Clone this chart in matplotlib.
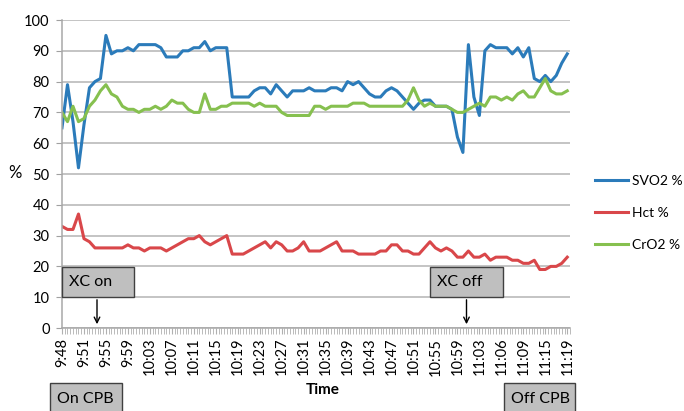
import numpy as np
import matplotlib
matplotlib.use("Agg")
import matplotlib.pyplot as plt
from matplotlib.patches import Rectangle

plt.rcParams['font.family'] = ['Lato', 'DejaVu Sans']

tick_labels = ["9:48", "9:51", "9:55", "9:59", "10:03", "10:07", "10:11", "10:15",
               "10:19", "10:23", "10:27", "10:31", "10:35", "10:39", "10:43", "10:47",
               "10:51", "10:55", "10:59", "11:03", "11:06", "11:09", "11:15", "11:19"]

svo2 = [65, 79, 67, 52, 66, 78, 80, 81, 95, 89, 90, 90, 91, 90, 92, 92, 92, 92, 91, 88,
        88, 88, 90, 90, 91, 91, 93, 90, 91, 91, 91, 75, 75, 75, 75, 77, 78, 78, 76, 79,
        77, 75, 77, 77, 77, 78, 77, 77, 77, 78, 78, 77, 80, 79, 80, 78, 76, 75, 75, 77,
        78, 77, 75, 73, 71, 73, 74, 74, 72, 72, 72, 71, 62, 57, 92, 75, 69, 90, 92, 91,
        91, 91, 89, 91, 88, 91, 81, 80, 82, 80, 82, 86, 89]

hct = [33, 32, 32, 37, 29, 28, 26, 26, 26, 26, 26, 26, 27, 26, 26, 25, 26, 26, 26, 25,
       26, 27, 28, 29, 29, 30, 28, 27, 28, 29, 30, 24, 24, 24, 25, 26, 27, 28, 26, 28,
       27, 25, 25, 26, 28, 25, 25, 25, 26, 27, 28, 25, 25, 25, 24, 24, 24, 24, 25, 25,
       27, 27, 25, 25, 24, 24, 26, 28, 26, 25, 26, 25, 23, 23, 25, 23, 23, 24, 22, 23,
       23, 23, 22, 22, 21, 21, 22, 19, 19, 20, 20, 21, 23]

cro2 = [70, 67, 72, 67, 68, 72, 74, 77, 79, 76, 75, 72, 71, 71, 70, 71, 71, 72, 71, 72,
        74, 73, 73, 71, 70, 70, 76, 71, 71, 72, 72, 73, 73, 73, 73, 72, 73, 72, 72, 72,
        70, 69, 69, 69, 69, 69, 72, 72, 71, 72, 72, 72, 72, 73, 73, 73, 72, 72, 72, 72,
        72, 72, 72, 74, 78, 74, 72, 73, 72, 72, 72, 71, 70, 70, 71, 72, 73, 72, 75, 75,
        74, 75, 74, 76, 77, 75, 75, 78, 81, 77, 76, 76, 77]

x = np.arange(len(svo2))
step = 4  # points between labelled ticks

fig = plt.figure(figsize=(6.84, 4.11), dpi=100)
ax = fig.add_axes([62 / 684, 1 - 328 / 411, 508 / 684, 308 / 411])

ax.plot(x, svo2, color='#2b7bba', lw=2.2, label='SVO2 %', solid_joinstyle='round')
ax.plot(x, hct, color='#d9474a', lw=2.2, label='Hct %', solid_joinstyle='round')
ax.plot(x, cro2, color='#86c04f', lw=2.2, label='CrO2 %', solid_joinstyle='round')

ax.set_ylim(0, 100)
ax.set_xlim(0, len(svo2) - 1)
ax.set_yticks(range(0, 101, 10))
ax.set_xticks(np.arange(0, len(svo2), step))
ax.set_xticklabels(tick_labels, rotation=90)
ax.set_xticks(np.arange(0, len(svo2), 0.5), minor=True)
ax.tick_params(axis='y', labelsize=10.5, length=4, color='#a0a0a0', pad=5)
ax.tick_params(axis='x', which='both', labelsize=10.5, length=4, color='#b0b0b0', pad=3)
ax.grid(axis='y', color='#b4b4b4', lw=1.1)
ax.set_axisbelow(True)
for s in ['top', 'right']:
    ax.spines[s].set_visible(False)
for s in ['left', 'bottom']:
    ax.spines[s].set_color('#a8a8a8')
    ax.spines[s].set_linewidth(1.1)

fig.text(15 / 684, 1 - 173 / 411, '%', fontsize=12, ha='center', va='center')
fig.text(323 / 684, 1 - 390 / 411, 'Time', fontsize=11, fontweight='bold', ha='center', va='center')

ax.legend(loc='upper left', bbox_to_anchor=(595 / 684, 1 - 175 / 411),
          bbox_transform=fig.transFigure, frameon=False, fontsize=10,
          borderpad=0, borderaxespad=0, handlelength=2.4, handletextpad=0.3,
          labelspacing=1.45)

# annotation boxes (pixel positions in the figure)
def box(x0, y0, x1, y1, text):
    fig.add_artist(Rectangle((x0 / 684, 1 - y1 / 411), (x1 - x0) / 684, (y1 - y0) / 411,
                             transform=fig.transFigure, facecolor='#bfbfbf',
                             edgecolor='#404040', lw=1.0))
    fig.text((x0 + 7) / 684, 1 - (y0 + y1) / 2 / 411, text, fontsize=11.5, va='center')

box(62, 267, 134, 297, 'XC on')
box(430, 267, 503, 297, 'XC off')
box(50, 383, 122, 415, 'On CPB')
box(504, 383, 575, 415, 'Off CPB')

for xp in [97, 466.5]:
    ax.annotate('', xy=(xp / 684, 1 - 327 / 411), xytext=(xp / 684, 1 - 297 / 411),
                xycoords='figure fraction', textcoords='figure fraction',
                arrowprops=dict(arrowstyle='->', color='black', lw=1.0))

fig.savefig('out.png', dpi=100)
